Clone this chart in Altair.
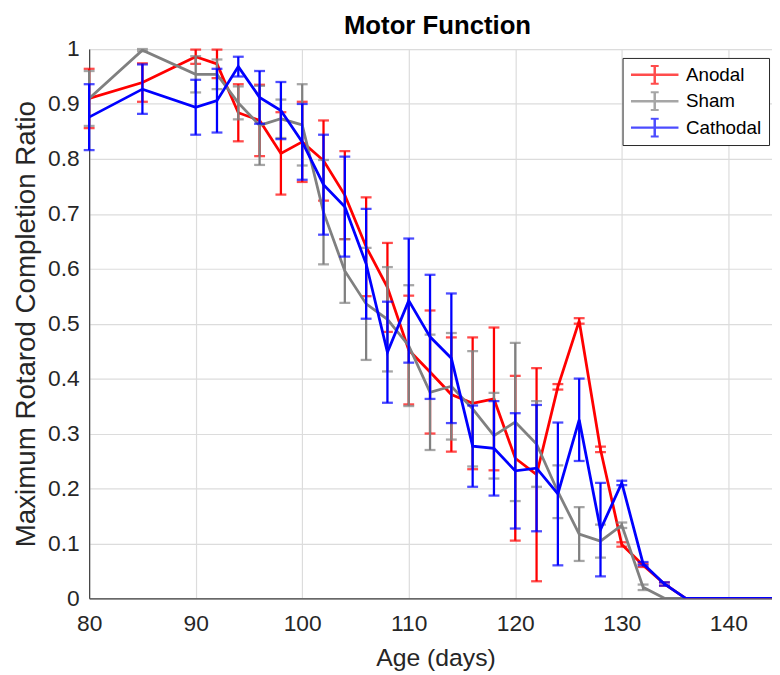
import altair as alt
import pandas as pd

# ---------------- data ----------------
days = [80, 85, 90, 92, 94, 96, 98, 100, 102, 104, 106, 108, 110, 112, 114, 116,
        118, 120, 122, 124, 126, 128, 130, 132, 134, 136, 138, 140, 142, 144, 146]

anodal_mean = [0.910, 0.939, 0.986, 0.973, 0.884, 0.870, 0.810, 0.831, 0.797, 0.734,
               0.640, 0.566, 0.452, 0.412, 0.371, 0.355, 0.363, 0.255, 0.225, 0.385,
               0.505, 0.271, 0.098, 0.060, 0.026, 0, 0, 0, 0, 0, 0]
anodal_err = [0.054, 0.035, 0.013, 0.026, 0.052, 0.065, 0.075, 0.073, 0.073, 0.080,
              0.090, 0.081, 0.099, 0.112, 0.104, 0.120, 0.130, 0.150, 0.194, 0.005,
              0.005, 0.005, 0.004, 0.003, 0.003, 0, 0, 0, 0, 0, 0]

sham_mean = [0.910, 0.998, 0.954, 0.954, 0.902, 0.861, 0.873, 0.862, 0.703, 0.596,
             0.536, 0.508, 0.460, 0.375, 0.386, 0.345, 0.296, 0.321, 0.281, 0.194,
             0.117, 0.104, 0.133, 0.020, 0, 0, 0, 0, 0, 0, 0]
sham_err = [0.050, 0.002, 0.033, 0.027, 0.030, 0.072, 0.035, 0.074, 0.095, 0.058,
            0.102, 0.095, 0.110, 0.105, 0.097, 0.105, 0.078, 0.144, 0.078, 0.048,
            0.049, 0.030, 0.005, 0.005, 0, 0, 0, 0, 0, 0, 0]

cathodal_mean = [0.876, 0.927, 0.894, 0.906, 0.968, 0.912, 0.888, 0.831, 0.753, 0.713,
                 0.609, 0.448, 0.542, 0.476, 0.437, 0.277, 0.273, 0.232, 0.237, 0.190,
                 0.325, 0.125, 0.210, 0.063, 0.026, 0, 0, 0, 0, 0, 0]
cathodal_err = [0.060, 0.045, 0.050, 0.058, 0.018, 0.048, 0.052, 0.069, 0.091, 0.091,
                0.100, 0.092, 0.113, 0.113, 0.118, 0.074, 0.086, 0.105, 0.115, 0.130,
                0.075, 0.085, 0.004, 0.003, 0.003, 0, 0, 0, 0, 0, 0]

series_names = ["Anodal", "Sham", "Cathodal"]
series_colors = ["#ff0000", "#808080", "#0000ff"]

x_ticks = [80, 90, 100, 110, 120, 130, 140]
y_ticks = [0, 0.1, 0.2, 0.3, 0.4, 0.5, 0.6, 0.7, 0.8, 0.9, 1]

# ---------------- table ----------------
rows = []
for name, means, errs in zip(series_names,
                             [anodal_mean, sham_mean, cathodal_mean],
                             [anodal_err, sham_err, cathodal_err]):
    for d, m, e in zip(days, means, errs):
        rows.append({"group": name, "day": d, "mean": m,
                     "lo": m - e, "hi": m + e, "err": e})
df = pd.DataFrame(rows)

FONT = "Liberation Sans"
TXT = "#262626"

x_scale = alt.Scale(domain=[80, 144.1], nice=False, zero=False)
y_scale = alt.Scale(domain=[0, 1], nice=False, zero=True)

x_axis = alt.Axis(values=x_ticks, title="Age (days)", grid=True, gridColor="#dcdcdc",
                  gridWidth=1.2, ticks=False, tickSize=0, domainColor="#404040",
                  domainWidth=1.2, labelFont=FONT, labelFontSize=23, labelColor=TXT,
                  labelPadding=15, labelFlush=False, titleFont=FONT, titleFontSize=25,
                  titleFontWeight="normal", titleColor=TXT, titlePadding=10,
                  titleX=350)
y_axis = alt.Axis(values=y_ticks, format="~g", title="Maximum Rotarod Completion Ratio",
                  grid=True, gridColor="#dcdcdc", gridWidth=1.2, ticks=False,
                  tickSize=0, domainColor="#404040", domainWidth=1.2, labelFont=FONT,
                  labelFontSize=23, labelColor=TXT, labelPadding=10, labelFlush=False,
                  titleFont=FONT, titleFontSize=28, titleFontWeight="normal",
                  titleColor=TXT, titlePadding=7)

LEGEND_PATH = "M-1,0H3.8M1.4,-0.92V0.92M1,-0.92H1.8M1,0.92H1.8"

color = alt.Color(
    "group:N",
    scale=alt.Scale(domain=series_names, range=series_colors),
    legend=alt.Legend(title=None, orient="none", legendX=539, legendY=9,
                      symbolType=LEGEND_PATH, symbolSize=400, symbolStrokeWidth=2.5,
                      symbolFillColor="transparent",
                      labelFont=FONT, labelFontSize=19, labelColor="#000000",
                      labelOffset=34, padding=7, rowPadding=6.7, clipHeight=20,
                      strokeColor="#262626", fillColor="#ffffff", cornerRadius=0),
)


def X(field):
    return alt.X(field, type="quantitative", scale=x_scale, axis=x_axis)


def Y(field):
    return alt.Y(field, type="quantitative", scale=y_scale, axis=y_axis)


layers = []
for name in series_names:
    sub = df[df["group"] == name]
    err_sub = sub[sub["err"] > 0]
    eb = alt.Chart(err_sub)
    rule = eb.mark_rule(strokeWidth=2.3).encode(x=X("day"), y=Y("lo"), y2="hi:Q", color=color)
    cap_lo = eb.mark_tick(orient="horizontal", size=11, thickness=2.3).encode(
        x=X("day"), y=Y("lo"), color=color)
    cap_hi = eb.mark_tick(orient="horizontal", size=11, thickness=2.3).encode(
        x=X("day"), y=Y("hi"), color=color)
    line = alt.Chart(sub).mark_line(strokeWidth=2.8, clip=True).encode(
        x=X("day"), y=Y("mean"), color=color, order=alt.Order("day:Q"))
    layers += [rule, cap_lo, cap_hi, line]

chart = alt.layer(*layers).properties(
    width=690,
    height=555,
    title=alt.TitleParams("Motor Function", font=FONT, fontSize=26, fontWeight="bold",
                          color="#000000", anchor="middle", frame="group",
                          offset=2, dx=7, dy=3),
    autosize=alt.AutoSizeParams(type="none"),
    padding={"left": 82, "top": 38, "right": 0, "bottom": 70},
).configure_view(strokeWidth=0).configure(background="white")

chart.save("out.html", embed_options={"renderer": "svg", "actions": False})
